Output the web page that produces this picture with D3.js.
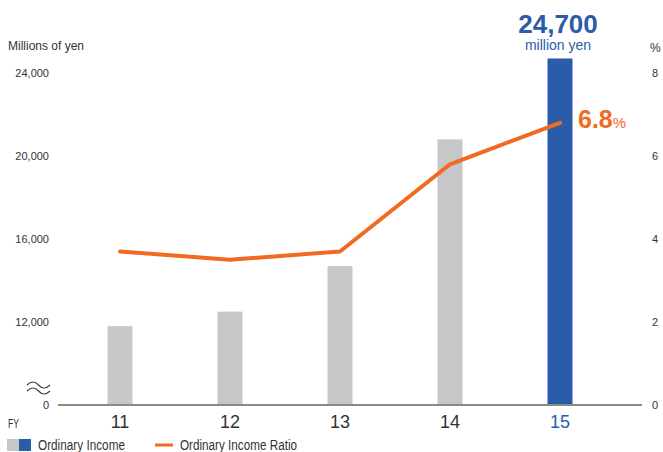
<!DOCTYPE html>
<html><head><meta charset="utf-8">
<script src="https://cdn.jsdelivr.net/npm/d3@7"></script>
<style>
html,body{margin:0;padding:0;background:#fff;}
svg{display:block;font-family:"Liberation Sans",Arial,sans-serif;}
</style></head>
<body><svg id="c" width="663" height="452"></svg>
<script>
const categories = ["11","12","13","14","15"];
const ordinaryIncome = [11800, 12500, 14700, 20800, 24700];
const incomeRatio = [3.7, 3.5, 3.7, 5.8, 6.8];
const leftTicks = [8000, 12000, 16000, 20000, 24000];
const leftTickLabels = ["0","12,000","16,000","20,000","24,000"];
const rightTicks = [0, 2, 4, 6, 8];
const highlightLabel = "24,700";
const highlightUnit = "million yen";
const ratioLabel = "6.8";

const svg = d3.select("#c");
const gray = "#c6c7c8", blue = "#2a5caa", orange = "#f26a21", text = "#333";
const yBase = 405, yTop = 73;

const x = d3.scaleBand().domain(categories).range([65, 615]).paddingInner(0).paddingOuter(0);
const bw = 25;
const yL = d3.scaleLinear().domain([8000, 24000]).range([yBase, yTop]);
const yR = d3.scaleLinear().domain([0, 8]).range([yBase, yTop]);
const cx = d => x(d) + x.bandwidth()/2;

// bars
svg.append("g").selectAll("rect").data(categories).join("rect")
  .attr("x", d => cx(d) - bw/2)
  .attr("width", bw)
  .attr("y", (d,i) => yL(ordinaryIncome[i]))
  .attr("height", (d,i) => yBase - yL(ordinaryIncome[i]))
  .attr("fill", (d,i) => i === categories.length-1 ? blue : gray);

// baseline
svg.append("line").attr("x1", 58).attr("x2", 642).attr("y1", yBase).attr("y2", yBase)
  .attr("stroke", "#8a8a8a").attr("stroke-width", 2);

// left axis
const la = d3.axisLeft(yL).tickValues(leftTicks).tickSize(0).tickPadding(0)
  .tickFormat((d,i) => leftTickLabels[i]);
const lg = svg.append("g").attr("transform", "translate(49,0)").call(la);
lg.select(".domain").remove();
lg.selectAll("text").attr("font-size", 11).attr("fill", text).attr("font-family", "Liberation Sans, Arial, sans-serif");

// right axis
const ra = d3.axisRight(yR).tickValues(rightTicks).tickSize(0).tickPadding(0);
const rg = svg.append("g").attr("transform", "translate(652,0)").call(ra);
rg.select(".domain").remove();
rg.selectAll("text").attr("font-size", 11).attr("fill", text).attr("font-family", "Liberation Sans, Arial, sans-serif");

// x axis labels
const xa = d3.axisBottom(x).tickSize(0).tickPadding(0);
const xg = svg.append("g").attr("transform", "translate(0,415)").call(xa);
xg.select(".domain").remove();
xg.selectAll("text").attr("font-size", 18).attr("font-family", "Liberation Sans, Arial, sans-serif")
  .attr("fill", (d,i) => i === categories.length-1 ? blue : text);

// line
const line = d3.line().x((d,i) => cx(categories[i])).y(d => yR(d));
svg.append("path").datum(incomeRatio).attr("d", line)
  .attr("fill", "none").attr("stroke", orange).attr("stroke-width", 4)
  .attr("stroke-linecap", "round").attr("stroke-linejoin", "round");

// axis titles
svg.append("text").attr("x", 8).attr("y", 50).attr("font-size", 12).attr("fill", text).text("Millions of yen");
svg.append("text").attr("x", 650).attr("y", 52).attr("font-size", 12).attr("fill", text).text("%");
svg.append("text").attr("x", 8).attr("y", 428).attr("font-size", 12).attr("fill", text)
  .attr("textLength", 11).attr("lengthAdjust", "spacingAndGlyphs").text("FY");

// break symbol
const bg = svg.append("g").attr("fill","none").attr("stroke","#444").attr("stroke-width",1.2);
[0, 6].forEach(o => {
  bg.append("path").attr("d", `M27,${385+o} C31,${381+o} 35,${381+o} 38.5,${385+o} S46,${389+o} 50,${385+o}`);
});

// annotations
const lastX = cx(categories[categories.length-1]);
svg.append("text").attr("x", lastX - 2).attr("y", 33).attr("text-anchor","middle")
  .attr("font-size", 26).attr("font-weight","bold").attr("fill", blue).text(highlightLabel);
svg.append("text").attr("x", lastX - 2).attr("y", 50).attr("text-anchor","middle")
  .attr("font-size", 14).attr("fill", blue).text(highlightUnit);
const rt = svg.append("text").attr("x", 578).attr("y", 128).attr("fill", orange);
rt.append("tspan").attr("font-size", 25).attr("font-weight","bold").text(ratioLabel);
rt.append("tspan").attr("font-size", 15).text("%");

// legend
svg.append("rect").attr("x", 7).attr("y", 439).attr("width", 12).attr("height", 12).attr("fill", gray);
svg.append("rect").attr("x", 19).attr("y", 439).attr("width", 12).attr("height", 12).attr("fill", blue);
svg.append("text").attr("x", 38).attr("y", 450).attr("font-size", 14).attr("fill", text)
  .attr("textLength", 87).attr("lengthAdjust", "spacingAndGlyphs").text("Ordinary Income");
svg.append("line").attr("x1", 155).attr("x2", 173).attr("y1", 445).attr("y2", 445).attr("stroke", orange).attr("stroke-width", 3);
svg.append("text").attr("x", 180).attr("y", 450).attr("font-size", 14).attr("fill", text)
  .attr("textLength", 117).attr("lengthAdjust", "spacingAndGlyphs").text("Ordinary Income Ratio");
</script></body></html>
